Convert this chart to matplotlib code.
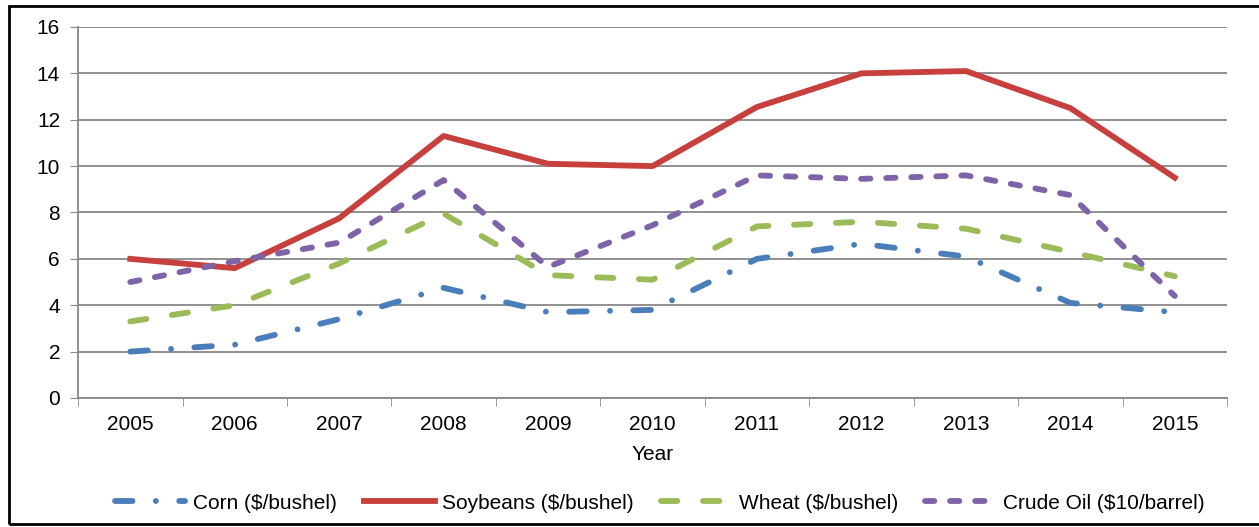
import matplotlib.pyplot as plt
from matplotlib.patches import Rectangle

plt.rcParams['font.family'] = ['Liberation Sans', 'DejaVu Sans']

years = ["2005", "2006", "2007", "2008", "2009", "2010",
         "2011", "2012", "2013", "2014", "2015"]
corn = [2.0, 2.3, 3.4, 4.75, 3.7, 3.8, 6.0, 6.65, 6.1, 4.1, 3.7]
soybeans = [6.0, 5.6, 7.75, 11.3, 10.1, 10.0, 12.55, 14.0, 14.1, 12.5, 9.5]
wheat = [3.3, 4.0, 5.8, 7.95, 5.3, 5.1, 7.4, 7.6, 7.3, 6.3, 5.25]
crude = [5.0, 5.9, 6.7, 9.4, 5.65, 7.45, 9.6, 9.45, 9.6, 8.75, 4.4]

fig = plt.figure(figsize=(12.59, 5.27), dpi=100)
ax = fig.add_axes([0.062, 0.2448, 0.9126, 0.704])

x = list(range(len(years)))
lw = 4.2
fs = 15
ax.plot(x, corn, color="#4a7ebb", lw=lw, linestyle=(0, (3.0, 4.0, 0.01, 4.0)),
        dash_capstyle="round", label="Corn ($/bushel)")
ax.plot(x, soybeans, color="#c8403d", lw=lw, label="Soybeans ($/bushel)")
ax.plot(x, wheat, color="#9bbb59", lw=lw, linestyle=(0, (2.8, 4.4)),
        dash_capstyle="round", label="Wheat ($/bushel)")
ax.plot(x, crude, color="#7f63a8", lw=lw, linestyle=(0, (1.6, 2.7)),
        dash_capstyle="round", label="Crude Oil ($10/barrel)")

ax.set_xlim(-0.5, len(years) - 0.5)
ax.set_ylim(0, 16)
ax.set_yticks(range(0, 17, 2))
ax.set_xticks(x)
ax.set_xticklabels(years)
ax.set_xticks([i - 0.5 for i in range(len(years) + 1)], minor=True)
ax.tick_params(axis="x", which="major", length=0, pad=12, labelsize=fs)
ax.tick_params(axis="x", which="minor", length=6, color="#888888")
ax.tick_params(axis="y", length=6, color="#888888", labelsize=fs, pad=7)
ax.grid(axis="y", color="#888888", lw=1.3)
ax.set_axisbelow(True)
for s in ["top", "right"]:
    ax.spines[s].set_visible(False)
ax.spines["left"].set_color("#888888")
ax.spines["bottom"].set_color("#888888")
ax.spines["left"].set_linewidth(1.3)
ax.spines["bottom"].set_linewidth(1.3)

ax.set_xlabel("Year", fontsize=fs, labelpad=8)

fig.legend(loc="center", bbox_to_anchor=(0.524, 0.045), ncol=4, frameon=False,
           fontsize=fs, handlelength=3.4, columnspacing=1.3, handletextpad=0.35)

fig.patches.append(Rectangle((0.007, 0.006), 0.998, 0.983, transform=fig.transFigure,
                             fill=False, edgecolor="black", lw=2))

fig.savefig("out.png", dpi=100)
